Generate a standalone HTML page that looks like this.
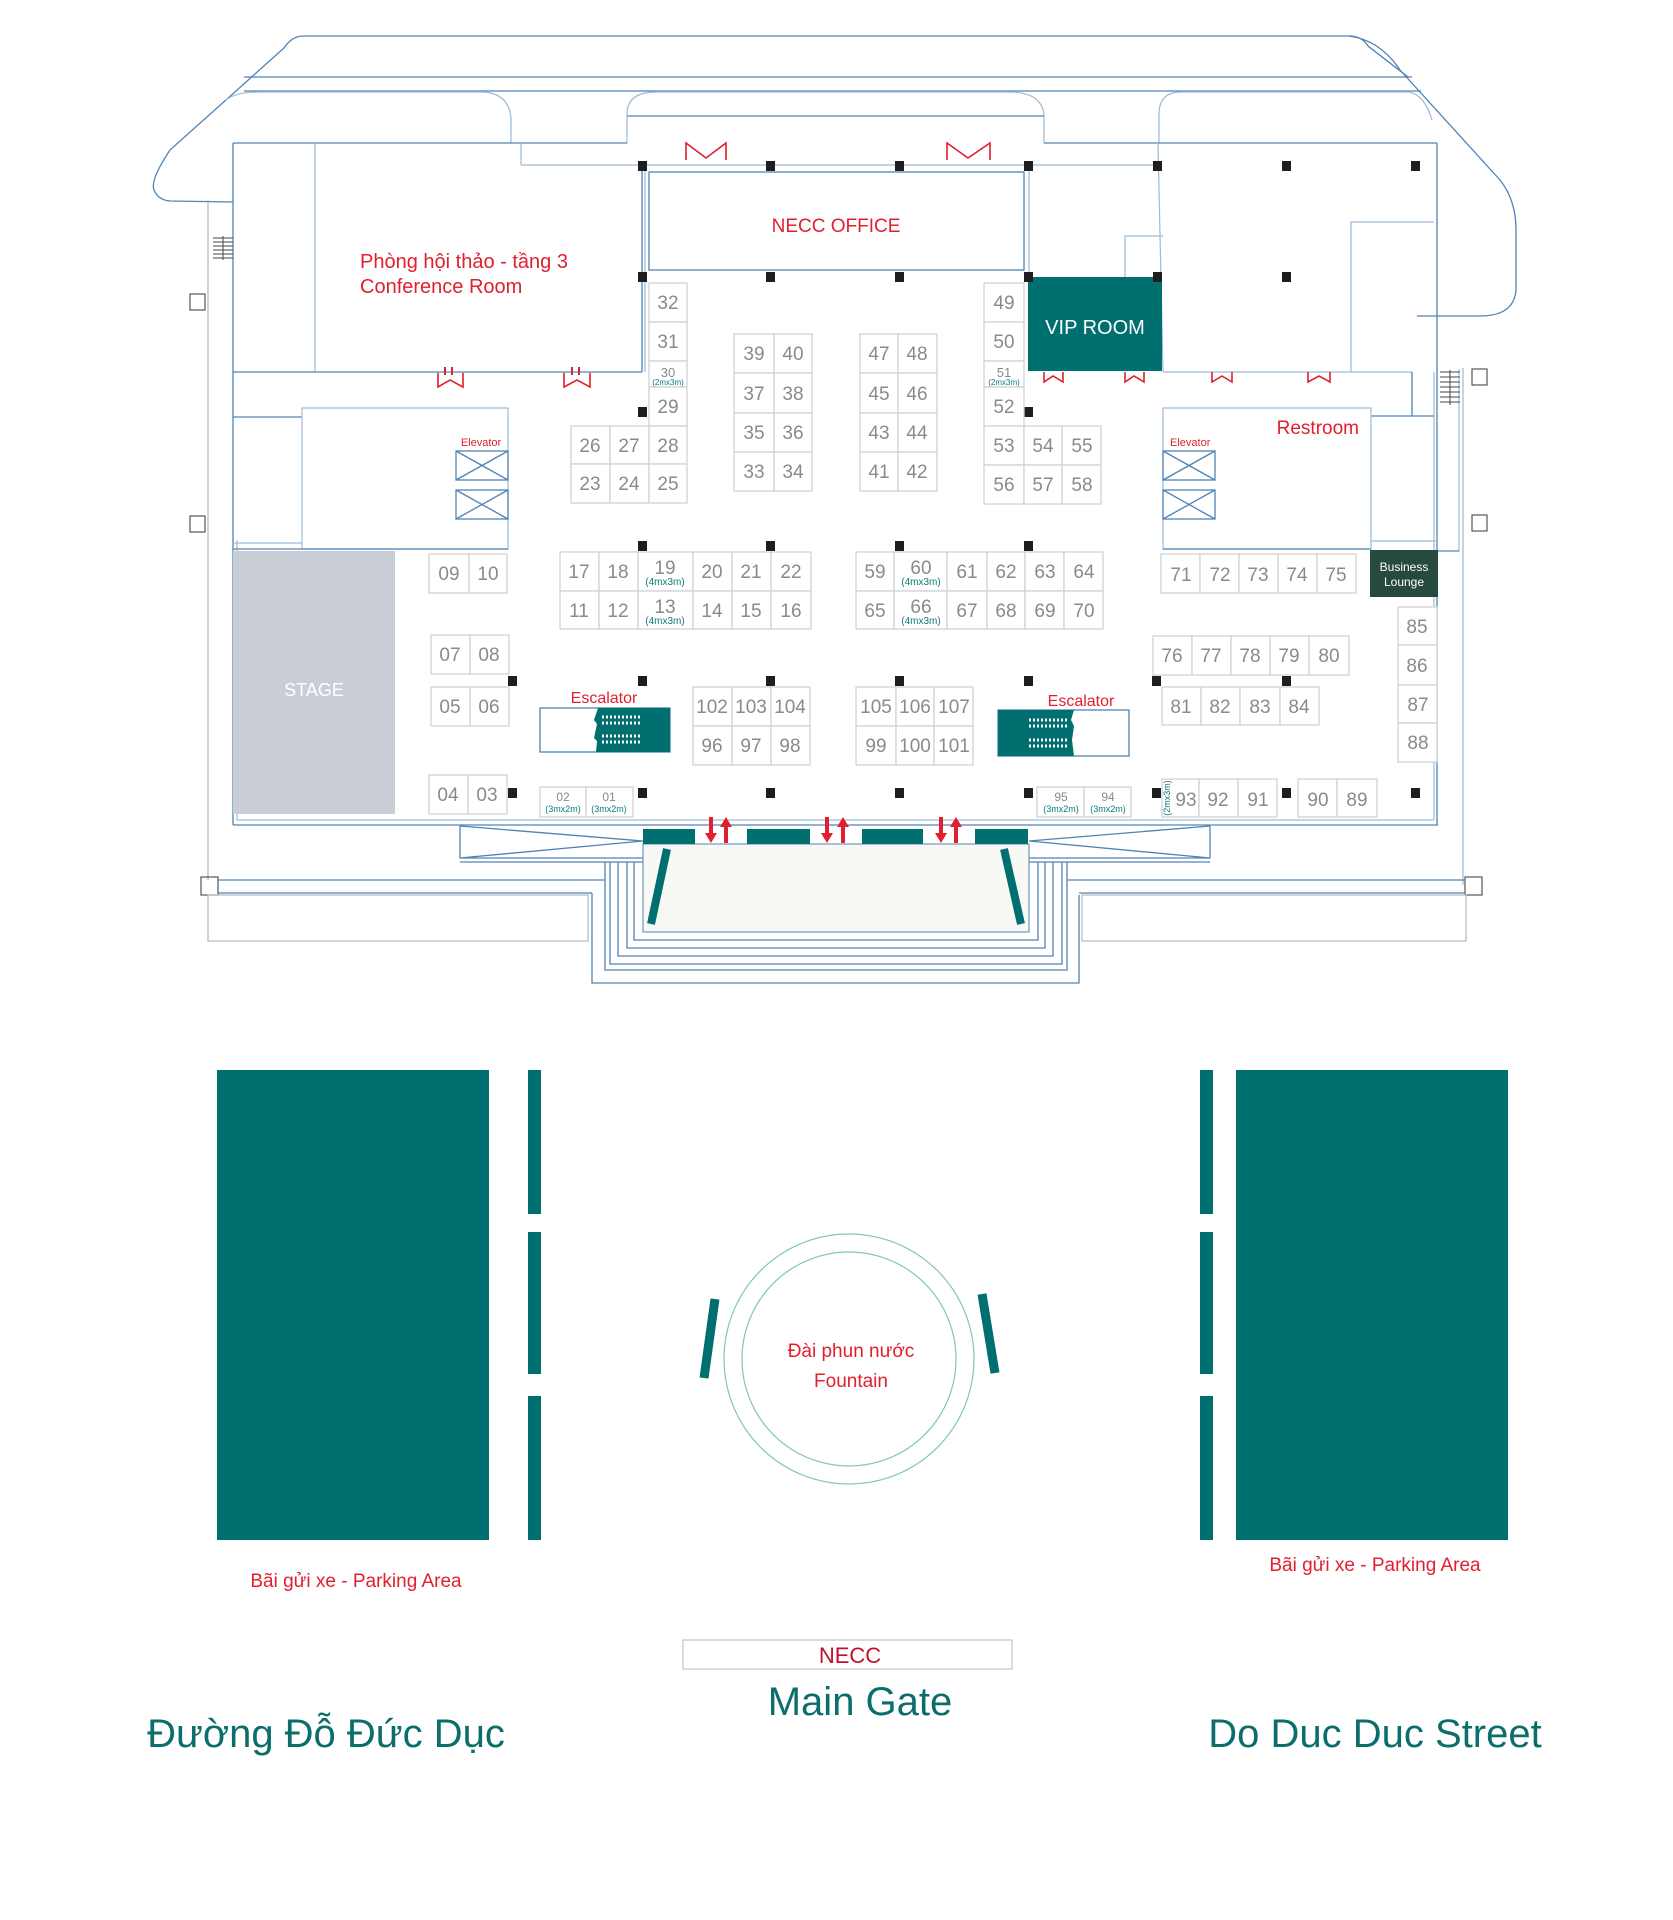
<!DOCTYPE html>
<html><head><meta charset="utf-8"><style>
html,body{margin:0;padding:0;background:#fff;}
svg{display:block;}
text{font-family:"Liberation Sans","Noto Sans CJK SC",sans-serif;}
.l{fill:none;stroke:#4f83b5;stroke-width:1.3;}
.ll{fill:none;stroke:#9dbad6;stroke-width:1.2;}
.g{fill:none;stroke:#bdbdbd;stroke-width:1.3;}
.b{fill:#fff;stroke:#d2d2d2;stroke-width:1.3;}
.n{fill:#8a8a8a;font-size:19px;text-anchor:middle;}
.s{fill:#0b7a78;font-size:10px;text-anchor:middle;}
.ns{fill:#8a8a8a;font-size:13px;text-anchor:middle;}
.p{fill:#1e1e1e;}
.r{fill:#e0202e;}
.d{fill:none;stroke:#e0202e;stroke-width:1.6;}
</style></head><body>
<svg width="1673" height="1920" viewBox="0 0 1673 1920" xmlns="http://www.w3.org/2000/svg">
<!-- roof -->
<path class="l" d="M303 36 L1349 36 Q1362 36 1368 46 L1408 77 M303 36 Q292 36 284 48 L170 150 Q150 180 154 190 Q158 200 170 201 L233 202"/>
<path class="l" d="M1349 36 Q1380 40 1400 70 L1500 180 Q1516 200 1516 230 L1516 290 Q1514 316 1480 316 L1417 316"/>
<line class="l" x1="244" y1="77" x2="1412" y2="77"/>
<line class="l" x1="244" y1="91" x2="1421" y2="91"/>
<path class="ll" d="M226 100 Q236 92 258 92 L484 92 Q509 94 511 118 L511 143"/>
<path class="ll" d="M627 143 L627 113 Q628 92 656 92 L1014 92 Q1042 94 1044 115 L1044 143"/>
<path class="ll" d="M1159 143 L1159 112 Q1160 92 1181 92 L1410 92 Q1425 96 1432 120"/>
<line class="l" x1="627" y1="116" x2="1044" y2="116"/>
<!-- building outline -->
<line class="l" x1="233" y1="143" x2="627" y2="143"/>
<line class="l" x1="1044" y1="143" x2="1437" y2="143"/>
<line class="l" x1="233" y1="143" x2="233" y2="825"/>
<line class="ll" x1="237" y1="540" x2="237" y2="820"/>
<line class="l" x1="1437" y1="143" x2="1437" y2="825"/>
<line class="ll" x1="1434" y1="372" x2="1434" y2="820"/>
<line class="l" x1="233" y1="825" x2="1438" y2="825"/>
<line class="ll" x1="237" y1="820" x2="1434" y2="820"/>
<line class="ll" x1="208" y1="200" x2="208" y2="880"/>
<line class="ll" x1="1463" y1="368" x2="1463" y2="885"/>
<line class="ll" x1="1459" y1="369" x2="1459" y2="551"/>
<line class="l" x1="1438" y1="551" x2="1459" y2="551"/>
<!-- conference room -->
<line class="ll" x1="315" y1="143" x2="315" y2="372"/>
<line class="l" x1="233" y1="372" x2="642" y2="372"/>
<line class="l" x1="642" y1="165" x2="642" y2="372"/>
<line class="ll" x1="521" y1="165" x2="1158" y2="165"/>
<line class="ll" x1="521" y1="143" x2="521" y2="165"/>
<text class="r" x="360" y="268" font-size="20">Phòng hội thảo - tầng 3</text>
<text class="r" x="360" y="293" font-size="20">Conference Room</text>
<!-- corridor / elevator room left -->
<path class="l" d="M233 417 L302 417"/>
<rect class="ll" x="302" y="408" width="206" height="141"/>
<line class="l" x1="233" y1="549" x2="508" y2="549"/>
<line class="ll" x1="233" y1="543" x2="302" y2="543"/>
<text class="r" x="481" y="446" font-size="11" text-anchor="middle">Elevator</text>
<g class="l"><rect x="456" y="451" width="52" height="29"/><path d="M456 451 L508 480 M508 451 L456 480"/><rect x="456" y="490" width="52" height="29"/><path d="M456 490 L508 519 M508 490 L456 519"/></g>
<!-- NECC office -->
<rect class="l" x="649" y="172" width="375" height="98"/>
<line class="ll" x1="645" y1="165" x2="645" y2="372"/>
<text class="r" x="836" y="232" font-size="19" text-anchor="middle">NECC OFFICE</text>
<!-- right upper -->
<line class="ll" x1="1029" y1="166" x2="1029" y2="277"/>
<line class="ll" x1="1158" y1="143" x2="1163" y2="372"/>
<path class="ll" d="M1125 277 L1125 236 L1163 236"/>
<path class="ll" d="M1351 372 L1351 222 L1434 222"/>
<line class="ll" x1="1163" y1="372" x2="1412" y2="372"/>
<path class="l" d="M1412 372 L1412 416 L1371 416 M1412 416 L1434 416"/>
<rect x="1028" y="277" width="134" height="94" fill="#006f6f"/>
<text x="1095" y="334" font-size="20" fill="#fff" text-anchor="middle">VIP ROOM</text>
<!-- restroom -->
<rect class="ll" x="1163" y="408" width="208" height="141"/>
<line class="l" x1="1163" y1="549" x2="1371" y2="549"/>
<line class="ll" x1="1371" y1="541" x2="1438" y2="541"/>
<text class="r" x="1359" y="434" font-size="19" text-anchor="end">Restroom</text>
<text class="r" x="1170" y="446" font-size="11">Elevator</text>
<g class="l"><rect x="1163" y="451" width="52" height="29"/><path d="M1163 451 L1215 480 M1215 451 L1163 480"/><rect x="1163" y="490" width="52" height="29"/><path d="M1163 490 L1215 519 M1215 490 L1163 519"/></g>
<rect x="1370" y="550" width="68" height="47" fill="#274a40"/>
<text x="1404" y="571" font-size="12" fill="#fff" text-anchor="middle">Business</text>
<text x="1404" y="586" font-size="12" fill="#fff" text-anchor="middle">Lounge</text>
<!-- stage -->
<rect x="233" y="551" width="162" height="263" fill="#c9ced6"/>
<text x="314" y="696" font-size="18" fill="#fff" text-anchor="middle">STAGE</text>
<!-- side squares & stairs -->
<g fill="none" stroke="#555" stroke-width="1.2"><rect x="190" y="294" width="15" height="16"/><rect x="190" y="516" width="15" height="16"/><rect x="1472" y="369" width="15" height="16"/><rect x="1472" y="515" width="15" height="16"/><rect x="201" y="877" width="17" height="18"/><rect x="1465" y="877" width="17" height="18"/></g>
<g stroke="#444" stroke-width="1"><path d="M213 238 h20 M213 242 h20 M213 246 h20 M213 250 h20 M213 254 h20 M213 258 h20 M223 236 v24"/><path d="M1440 372 h20 M1440 377 h20 M1440 382 h20 M1440 387 h20 M1440 392 h20 M1440 397 h20 M1440 402 h20 M1450 370 v35"/></g>
<!-- door icons -->
<g class="d"><path d="M686 160 L686 143 L706 158 L726 143 L726 160"/><path d="M947 160 L947 143 L968 158 L990 143 L990 160"/>
<path d="M438 373 L438 387 L450 380 L463 387 L463 373"/><path d="M564 373 L564 387 L577 380 L590 387 L590 373"/>
<path d="M1044 372 L1044 382 L1053 376 L1063 382 L1063 372"/><path d="M1125 372 L1125 382 L1134 376 L1144 382 L1144 372"/><path d="M1212 372 L1212 382 L1222 376 L1232 382 L1232 372"/><path d="M1308 372 L1308 382 L1319 376 L1330 382 L1330 372"/></g>
<g class="r"><rect x="444" y="367" width="2" height="8"/><rect x="451" y="367" width="2" height="8"/><rect x="571" y="367" width="2" height="8"/><rect x="578" y="367" width="2" height="8"/></g>
<!-- pillars -->
<g class="p">
<rect x="638" y="161" width="9" height="10"/><rect x="766" y="161" width="9" height="10"/><rect x="895" y="161" width="9" height="10"/><rect x="1024" y="161" width="9" height="10"/><rect x="1153" y="161" width="9" height="10"/><rect x="1282" y="161" width="9" height="10"/><rect x="1411" y="161" width="9" height="10"/>
<rect x="638" y="272" width="9" height="10"/><rect x="766" y="272" width="9" height="10"/><rect x="895" y="272" width="9" height="10"/><rect x="1024" y="272" width="9" height="10"/><rect x="1153" y="272" width="9" height="10"/><rect x="1282" y="272" width="9" height="10"/>
<rect x="638" y="407" width="9" height="10"/><rect x="1024" y="407" width="9" height="10"/>
<rect x="638" y="541" width="9" height="10"/><rect x="766" y="541" width="9" height="10"/><rect x="895" y="541" width="9" height="10"/><rect x="1024" y="541" width="9" height="10"/>
<rect x="508" y="676" width="9" height="10"/><rect x="638" y="676" width="9" height="10"/><rect x="766" y="676" width="9" height="10"/><rect x="895" y="676" width="9" height="10"/><rect x="1024" y="676" width="9" height="10"/><rect x="1152" y="676" width="9" height="10"/><rect x="1282" y="676" width="9" height="10"/>
<rect x="508" y="788" width="9" height="10"/><rect x="638" y="788" width="9" height="10"/><rect x="766" y="788" width="9" height="10"/><rect x="895" y="788" width="9" height="10"/><rect x="1024" y="788" width="9" height="10"/><rect x="1152" y="788" width="9" height="10"/><rect x="1282" y="788" width="9" height="10"/><rect x="1411" y="788" width="9" height="10"/>
</g>
<!-- booths -->
<g class="b">
<rect x="649" y="283" width="38" height="39"/><rect x="649" y="322" width="38" height="39"/><rect x="649" y="361" width="38" height="26"/><rect x="649" y="387" width="38" height="39"/>
<rect x="571" y="426" width="39" height="38"/><rect x="610" y="426" width="39" height="38"/><rect x="649" y="426" width="38" height="38"/>
<rect x="571" y="464" width="39" height="39"/><rect x="610" y="464" width="39" height="39"/><rect x="649" y="464" width="38" height="39"/>
<rect x="734" y="334" width="40" height="39"/><rect x="774" y="334" width="38" height="39"/><rect x="734" y="373" width="40" height="40"/><rect x="774" y="373" width="38" height="40"/><rect x="734" y="413" width="40" height="39"/><rect x="774" y="413" width="38" height="39"/><rect x="734" y="452" width="40" height="39"/><rect x="774" y="452" width="38" height="39"/>
<rect x="860" y="334" width="38" height="39"/><rect x="898" y="334" width="39" height="39"/><rect x="860" y="373" width="38" height="40"/><rect x="898" y="373" width="39" height="40"/><rect x="860" y="413" width="38" height="39"/><rect x="898" y="413" width="39" height="39"/><rect x="860" y="452" width="38" height="39"/><rect x="898" y="452" width="39" height="39"/>
<rect x="984" y="283" width="40" height="39"/><rect x="984" y="322" width="40" height="39"/><rect x="984" y="361" width="40" height="26"/><rect x="984" y="387" width="40" height="39"/>
<rect x="984" y="426" width="40" height="39"/><rect x="1024" y="426" width="38" height="39"/><rect x="1062" y="426" width="39" height="39"/>
<rect x="984" y="465" width="40" height="39"/><rect x="1024" y="465" width="38" height="39"/><rect x="1062" y="465" width="39" height="39"/>
<rect x="560" y="552" width="39" height="39"/><rect x="599" y="552" width="39" height="39"/><rect x="638" y="552" width="55" height="39"/><rect x="693" y="552" width="39" height="39"/><rect x="732" y="552" width="39" height="39"/><rect x="771" y="552" width="40" height="39"/>
<rect x="560" y="591" width="39" height="38"/><rect x="599" y="591" width="39" height="38"/><rect x="638" y="591" width="55" height="38"/><rect x="693" y="591" width="39" height="38"/><rect x="732" y="591" width="39" height="38"/><rect x="771" y="591" width="40" height="38"/>
<rect x="856" y="552" width="38" height="39"/><rect x="894" y="552" width="53" height="39"/><rect x="947" y="552" width="40" height="39"/><rect x="987" y="552" width="38" height="39"/><rect x="1025" y="552" width="39" height="39"/><rect x="1064" y="552" width="39" height="39"/>
<rect x="856" y="591" width="38" height="38"/><rect x="894" y="591" width="53" height="38"/><rect x="947" y="591" width="40" height="38"/><rect x="987" y="591" width="38" height="38"/><rect x="1025" y="591" width="39" height="38"/><rect x="1064" y="591" width="39" height="38"/>
<rect x="429" y="554" width="40" height="39"/><rect x="469" y="554" width="38" height="39"/>
<rect x="1161" y="554" width="39" height="39"/><rect x="1200" y="554" width="39" height="39"/><rect x="1239" y="554" width="39" height="39"/><rect x="1278" y="554" width="39" height="39"/><rect x="1317" y="554" width="39" height="39"/>
<rect x="431" y="635" width="39" height="39"/><rect x="470" y="635" width="39" height="39"/>
<rect x="431" y="687" width="39" height="39"/><rect x="470" y="687" width="39" height="39"/>
<rect x="429" y="775" width="39" height="39"/><rect x="468" y="775" width="39" height="39"/>
<rect x="540" y="787" width="46" height="30"/><rect x="586" y="787" width="47" height="30"/>
<rect x="693" y="687" width="39" height="39"/><rect x="732" y="687" width="39" height="39"/><rect x="771" y="687" width="39" height="39"/>
<rect x="693" y="726" width="39" height="39"/><rect x="732" y="726" width="39" height="39"/><rect x="771" y="726" width="39" height="39"/>
<rect x="856" y="687" width="40" height="39"/><rect x="896" y="687" width="38" height="39"/><rect x="934" y="687" width="39" height="39"/>
<rect x="856" y="726" width="40" height="39"/><rect x="896" y="726" width="38" height="39"/><rect x="934" y="726" width="39" height="39"/>
<rect x="1153" y="636" width="39" height="39"/><rect x="1192" y="636" width="39" height="39"/><rect x="1231" y="636" width="39" height="39"/><rect x="1270" y="636" width="39" height="39"/><rect x="1309" y="636" width="40" height="39"/>
<rect x="1162" y="687" width="39" height="38"/><rect x="1201" y="687" width="39" height="38"/><rect x="1240" y="687" width="40" height="38"/><rect x="1280" y="687" width="39" height="38"/>
<rect x="1398" y="607" width="39" height="38"/><rect x="1398" y="645" width="39" height="40"/><rect x="1398" y="685" width="39" height="38"/><rect x="1398" y="723" width="39" height="39"/>
<rect x="1037" y="787" width="47" height="30"/><rect x="1084" y="787" width="47" height="30"/>
<rect x="1162" y="779" width="37" height="38"/><rect x="1199" y="779" width="39" height="38"/><rect x="1238" y="779" width="39" height="38"/>
<rect x="1298" y="779" width="39" height="38"/><rect x="1337" y="779" width="40" height="38"/>
</g>
<g class="n">
<text x="668" y="309">32</text><text x="668" y="348">31</text><text x="668" y="413">29</text>
<text x="590" y="452">26</text><text x="629" y="452">27</text><text x="668" y="452">28</text>
<text x="590" y="490">23</text><text x="629" y="490">24</text><text x="668" y="490">25</text>
<text x="754" y="360">39</text><text x="793" y="360">40</text><text x="754" y="400">37</text><text x="793" y="400">38</text><text x="754" y="439">35</text><text x="793" y="439">36</text><text x="754" y="478">33</text><text x="793" y="478">34</text>
<text x="879" y="360">47</text><text x="917" y="360">48</text><text x="879" y="400">45</text><text x="917" y="400">46</text><text x="879" y="439">43</text><text x="917" y="439">44</text><text x="879" y="478">41</text><text x="917" y="478">42</text>
<text x="1004" y="309">49</text><text x="1004" y="348">50</text><text x="1004" y="413">52</text>
<text x="1004" y="452">53</text><text x="1043" y="452">54</text><text x="1082" y="452">55</text>
<text x="1004" y="491">56</text><text x="1043" y="491">57</text><text x="1082" y="491">58</text>
<text x="579" y="578">17</text><text x="618" y="578">18</text><text x="665" y="574">19</text><text x="712" y="578">20</text><text x="751" y="578">21</text><text x="791" y="578">22</text>
<text x="579" y="617">11</text><text x="618" y="617">12</text><text x="665" y="613">13</text><text x="712" y="617">14</text><text x="751" y="617">15</text><text x="791" y="617">16</text>
<text x="875" y="578">59</text><text x="921" y="574">60</text><text x="967" y="578">61</text><text x="1006" y="578">62</text><text x="1045" y="578">63</text><text x="1084" y="578">64</text>
<text x="875" y="617">65</text><text x="921" y="613">66</text><text x="967" y="617">67</text><text x="1006" y="617">68</text><text x="1045" y="617">69</text><text x="1084" y="617">70</text>
<text x="449" y="580">09</text><text x="488" y="580">10</text>
<text x="1181" y="581">71</text><text x="1220" y="581">72</text><text x="1258" y="581">73</text><text x="1297" y="581">74</text><text x="1336" y="581">75</text>
<text x="450" y="661">07</text><text x="489" y="661">08</text>
<text x="450" y="713">05</text><text x="489" y="713">06</text>
<text x="448" y="801">04</text><text x="487" y="801">03</text>
<text x="712" y="713">102</text><text x="751" y="713">103</text><text x="790" y="713">104</text>
<text x="712" y="752">96</text><text x="751" y="752">97</text><text x="790" y="752">98</text>
<text x="876" y="713">105</text><text x="915" y="713">106</text><text x="954" y="713">107</text>
<text x="876" y="752">99</text><text x="915" y="752">100</text><text x="954" y="752">101</text>
<text x="1172" y="662">76</text><text x="1211" y="662">77</text><text x="1250" y="662">78</text><text x="1289" y="662">79</text><text x="1329" y="662">80</text>
<text x="1181" y="713">81</text><text x="1220" y="713">82</text><text x="1260" y="713">83</text><text x="1299" y="713">84</text>
<text x="1417" y="633">85</text><text x="1417" y="672">86</text><text x="1418" y="711">87</text><text x="1418" y="749">88</text>
<text x="1186" y="806">93</text><text x="1218" y="806">92</text><text x="1258" y="806">91</text>
<text x="1318" y="806">90</text><text x="1357" y="806">89</text>
</g>
<g class="ns"><text x="668" y="377">30</text><text x="1004" y="377">51</text><text x="563" y="801" font-size="12">02</text><text x="609" y="801" font-size="12">01</text><text x="1061" y="801" font-size="12">95</text><text x="1108" y="801" font-size="12">94</text></g>
<g class="s">
<text x="668" y="385" font-size="8">(2mx3m)</text><text x="1004" y="385" font-size="8">(2mx3m)</text>
<text x="665" y="585">(4mx3m)</text><text x="665" y="624">(4mx3m)</text><text x="921" y="585">(4mx3m)</text><text x="921" y="624">(4mx3m)</text>
<text x="563" y="812" font-size="9">(3mx2m)</text><text x="609" y="812" font-size="9">(3mx2m)</text><text x="1061" y="812" font-size="9">(3mx2m)</text><text x="1108" y="812" font-size="9">(3mx2m)</text>
<text x="1170" y="798" font-size="9" transform="rotate(-90 1170 798)">(2mx3m)</text>
</g>
<!-- escalators -->
<rect class="l" x="540" y="708" width="130" height="44"/>
<path d="M598 708 L670 708 L670 752 L596 752 L597 741 L594 738 L597 724 L594 720 Z" fill="#006f6f"/>
<g stroke="#fff" stroke-width="3" stroke-dasharray="2 2"><line x1="602" y1="717" x2="641" y2="717"/><line x1="602" y1="723" x2="641" y2="723"/><line x1="602" y1="736" x2="641" y2="736"/><line x1="602" y1="742" x2="641" y2="742"/></g>
<text class="r" x="604" y="703" font-size="16" text-anchor="middle">Escalator</text>
<rect class="l" x="998" y="710" width="131" height="46"/>
<path d="M998 710 L1074 710 L1071 720 L1074 726 L1072 740 L1074 756 L998 756 Z" fill="#006f6f"/>
<g stroke="#fff" stroke-width="3" stroke-dasharray="2 2"><line x1="1029" y1="720" x2="1068" y2="720"/><line x1="1029" y1="726" x2="1068" y2="726"/><line x1="1029" y1="740" x2="1068" y2="740"/><line x1="1029" y1="746" x2="1068" y2="746"/></g>
<text class="r" x="1081" y="706" font-size="16" text-anchor="middle">Escalator</text>
<!-- entrance -->
<rect x="643" y="844" width="386" height="88" fill="#f8f9f4" stroke="#4f83b5" stroke-width="1"/>
<g fill="#006f6f"><rect x="643" y="829" width="52" height="15"/><rect x="747" y="829" width="63" height="15"/><rect x="862" y="829" width="61" height="15"/><rect x="975" y="829" width="53" height="15"/></g>
<path d="M667 849 L651 924" stroke="#006f6f" stroke-width="8"/>
<path d="M1004 849 L1021 924" stroke="#006f6f" stroke-width="8"/>
<g class="r">
<path d="M709 817 h4 v16 h4 l-6 10 l-6 -10 h4 z"/><path d="M724 843 h4 v-16 h4 l-6 -10 l-6 10 h4 z"/>
<path d="M825 817 h4 v16 h4 l-6 10 l-6 -10 h4 z"/><path d="M841 843 h4 v-16 h4 l-6 -10 l-6 10 h4 z"/>
<path d="M939 817 h4 v16 h4 l-6 10 l-6 -10 h4 z"/><path d="M954 843 h4 v-16 h4 l-6 -10 l-6 10 h4 z"/>
</g>
<g class="l">
<path d="M460 826 L460 858 L643 858 M460 826 L643 841 L460 858 M460 862 L643 862"/>
<path d="M1210 826 L1210 858 L1029 858 M1210 826 L1029 841 L1210 858 M1210 862 L1029 862"/>
<path d="M634 862 L634 940 L1038 940 L1038 862"/>
<path d="M627 862 L627 948 L1045 948 L1045 862"/>
<path d="M618 862 L618 956 L1053 956 L1053 862"/>
<path d="M610 862 L610 964 L1062 964 L1062 862"/>
<path d="M605 862 L605 970 L1067 970 L1067 862"/>
<path d="M592 893 L592 983 L1079 983 L1079 895"/>
<path d="M218 880 L605 880 M218 893 L592 893"/>
<path d="M1067 880 L1465 880 M1079 893 L1465 893"/>
</g>
<g class="g"><rect x="208" y="895" width="380" height="46"/><rect x="1082" y="895" width="384" height="46"/></g>
<!-- parking -->
<g fill="#006f6f">
<rect x="217" y="1070" width="272" height="470"/><rect x="528" y="1070" width="13" height="144"/><rect x="528" y="1232" width="13" height="142"/><rect x="528" y="1396" width="13" height="144"/>
<rect x="1236" y="1070" width="272" height="470"/><rect x="1200" y="1070" width="13" height="144"/><rect x="1200" y="1232" width="13" height="142"/><rect x="1200" y="1396" width="13" height="144"/>
</g>
<text class="r" x="356" y="1587" font-size="19" text-anchor="middle">Bãi gửi xe - Parking Area</text>
<text class="r" x="1375" y="1571" font-size="19" text-anchor="middle">Bãi gửi xe - Parking Area</text>
<!-- fountain -->
<circle cx="849" cy="1359" r="125" fill="none" stroke="#7fc8b6" stroke-width="1.2"/>
<circle cx="849" cy="1359" r="107" fill="none" stroke="#7fc8b6" stroke-width="1.2"/>
<path d="M715 1299 L704 1378" stroke="#006f6f" stroke-width="9"/>
<path d="M982 1294 L995 1373" stroke="#006f6f" stroke-width="9"/>
<text class="r" x="851" y="1357" font-size="19" text-anchor="middle">Đài phun nước</text>
<text class="r" x="851" y="1387" font-size="19" text-anchor="middle">Fountain</text>
<!-- gate & streets -->
<rect x="683" y="1640" width="329" height="29" fill="#fff" stroke="#c8c8c8" stroke-width="1.3"/>
<text x="850" y="1663" font-size="22" fill="#c0122c" text-anchor="middle">NECC</text>
<text x="860" y="1715" font-size="40" fill="#0b6e6a" text-anchor="middle">Main Gate</text>
<text x="326" y="1747" font-size="40" fill="#0b6e6a" text-anchor="middle">Đường Đỗ Đức Dục</text>
<text x="1375" y="1747" font-size="40" fill="#0b6e6a" text-anchor="middle">Do Duc Duc Street</text>
</svg>
</body></html>
